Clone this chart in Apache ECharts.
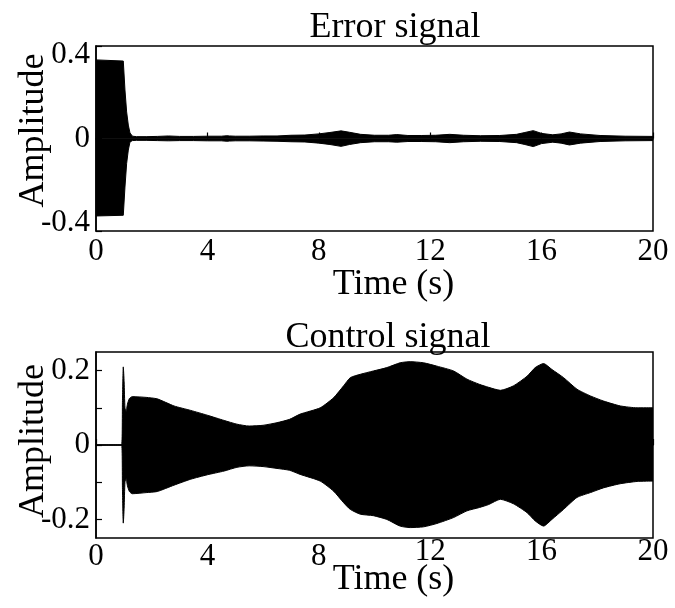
<!DOCTYPE html>
<html>
<head>
<meta charset="utf-8">
<script src="https://cdn.jsdelivr.net/npm/echarts@6/dist/echarts.min.js"></script>
<style>html,body{margin:0;padding:0;background:#fff}#c{width:675px;height:608px}</style>
</head>
<body>
<div id="c"></div>
<script>
// ---- Error signal envelope (time in s, amplitude) ----
var errT = [0, 0.98, 1.04, 1.10, 1.16, 1.22, 1.31, 1.45, 1.8, 2.2,
  2.6, 3.0, 3.5, 4.0, 4.5, 4.7, 4.75, 4.8, 5.0, 5.5,
  6.0, 6.5, 7.0, 7.5, 8.0, 8.4, 8.8, 9.1, 9.5, 10.0,
  10.5, 10.8, 11.2, 11.7, 12.2, 12.7, 13.2, 13.8, 14.5, 15.1,
  15.4, 15.7, 16.0, 16.4, 16.7, 17.0, 17.4, 18.1, 19.0, 20.0];
var errUpper = [0.34, 0.335, 0.21, 0.115, 0.058, 0.024, 0.01, 0.008, 0.008, 0.009,
  0.011, 0.009, 0.009, 0.01, 0.01, 0.012, 0.018, 0.011, 0.01, 0.01,
  0.011, 0.011, 0.014, 0.015, 0.02, 0.026, 0.033, 0.027, 0.018, 0.014,
  0.014, 0.017, 0.013, 0.013, 0.014, 0.018, 0.014, 0.012, 0.013, 0.018,
  0.026, 0.034, 0.022, 0.016, 0.02, 0.028, 0.02, 0.013, 0.01, 0.009];
var errLower = [-0.335, -0.332, -0.21, -0.108, -0.05, -0.015, -0.009, -0.008, -0.008, -0.009,
  -0.01, -0.009, -0.009, -0.01, -0.01, -0.012, -0.017, -0.011, -0.01, -0.01,
  -0.011, -0.012, -0.014, -0.015, -0.02, -0.026, -0.034, -0.026, -0.018, -0.014,
  -0.014, -0.016, -0.013, -0.013, -0.014, -0.018, -0.014, -0.012, -0.013, -0.018,
  -0.026, -0.035, -0.022, -0.016, -0.02, -0.028, -0.02, -0.013, -0.01, -0.009];

// ---- Control signal envelope ----
var ctrlT = [0, 0.92, 0.95, 0.98, 1.01, 1.04, 1.08, 1.13, 1.2, 1.3,
  1.8, 2.2, 2.8, 3.4, 4.0, 4.6, 5.06, 5.5, 6.0, 6.5,
  6.95, 7.33, 8.05, 8.53, 8.89, 9.13, 9.49, 9.96, 10.44, 10.92,
  11.28, 11.76, 12.24, 12.84, 13.32, 13.77, 14.1, 14.52, 14.99, 15.48,
  15.77, 16.07, 16.37, 16.79, 17.27, 17.75, 18.23, 18.83, 19.43, 20];
var ctrlUpper = [0, 0, 0.12, 0.21, 0.17, 0.1, 0.09, 0.11, 0.125, 0.13,
  0.128, 0.124, 0.105, 0.093, 0.08, 0.066, 0.056, 0.051, 0.053, 0.06,
  0.069, 0.083, 0.1, 0.127, 0.159, 0.181, 0.19, 0.199, 0.208, 0.221,
  0.224, 0.221, 0.212, 0.199, 0.177, 0.163, 0.155, 0.147, 0.159, 0.185,
  0.208, 0.219, 0.203, 0.181, 0.15, 0.132, 0.118, 0.105, 0.1, 0.1];
var ctrlLower = [0, 0, -0.12, -0.21, -0.17, -0.1, -0.09, -0.11, -0.125, -0.131,
  -0.128, -0.125, -0.108, -0.092, -0.08, -0.07, -0.06, -0.056, -0.058, -0.063,
  -0.068, -0.079, -0.097, -0.124, -0.155, -0.173, -0.186, -0.19, -0.2, -0.218,
  -0.222, -0.22, -0.211, -0.195, -0.177, -0.168, -0.16, -0.146, -0.158, -0.182,
  -0.204, -0.218, -0.2, -0.173, -0.141, -0.128, -0.115, -0.104, -0.098, -0.097];

// ---- Axis ticks / labels ----
var xTickLabels = [0, 4, 8, 12, 16, 20];
var errYLabels = [-0.4, 0, 0.4];
var ctrlYLabels = [-0.2, 0, 0.2];
var ctrlYTicks = [-0.2, -0.1, 0, 0.1, 0.2];
var titles = ['Error signal', 'Control signal'];
var xName = 'Time (s)';
var yName = 'Amplitude';

function zip(t, v) { return t.map(function (x, i) { return [x, v[i]]; }); }

var FONT = '"Liberation Serif", "Times New Roman", serif';
var black = '#000';
var LBL = 31;

function xAxisCfg(gi) {
  return {
    type: 'value', gridIndex: gi, min: 0, max: 20, interval: 4,
    name: xName, nameLocation: 'middle', nameGap: gi === 0 ? 36 : 24, nameMoveOverlap: false,
    nameTextStyle: { fontFamily: FONT, fontSize: 36, color: black, padding: [0, 0, 0, 38] },
    axisLine: { show: true, lineStyle: { color: black, width: 1.5 } },
    axisTick: { show: true, inside: true, length: 6, lineStyle: { color: black, width: 1.2 }, customValues: xTickLabels },
    axisLabel: {
      fontFamily: FONT, fontSize: LBL, color: black, margin: gi === 0 ? 5 : -2, customValues: xTickLabels,
      formatter: function (v) {
        if (gi === 1 && v < 12) return '{lo|' + v + '}';
        return String(v);
      },
      rich: { lo: { fontFamily: FONT, fontSize: LBL, color: black, padding: [5, 0, 0, 0] } }
    },
    splitLine: { show: false }
  };
}
function yAxisCfg(gi, min, max, labels, ticks) {
  return {
    type: 'value', gridIndex: gi, min: min, max: max,
    name: yName, nameLocation: 'middle', nameGap: 44, nameMoveOverlap: false,
    nameTextStyle: { fontFamily: FONT, fontSize: 36, color: black, padding: [0, 0, 0, gi === 0 ? 16 : 8] },
    axisLine: { show: true, lineStyle: { color: black, width: 1.5 } },
    axisTick: { show: true, inside: true, length: 6, lineStyle: { color: black, width: 1.2 }, customValues: ticks },
    axisLabel: {
      fontFamily: FONT, fontSize: LBL, color: black, margin: 6, customValues: labels,
      formatter: function (v) {
        var s = String(Math.round(v * 100) / 100);
        if (gi === 0 && v > 0.3) return '{dn|' + s + '}';
        if (gi === 0 && v < -0.3) return '{up|' + s + '}';
        return s;
      },
      rich: {
        dn: { fontFamily: FONT, fontSize: LBL, color: black, padding: [18, 0, 0, 0] },
        up: { fontFamily: FONT, fontSize: LBL, color: black, padding: [0, 0, 16, 0] }
      }
    },
    splitLine: { show: false }
  };
}
function band(gi, t, v) {
  return {
    type: 'line', xAxisIndex: gi, yAxisIndex: gi, data: zip(t, v),
    showSymbol: false, symbol: 'none', silent: true, smooth: gi === 1 ? 0.2 : false,
    lineStyle: { color: black, width: 1 },
    areaStyle: { color: black, opacity: 1, origin: 0 }
  };
}

var chart = echarts.init(document.getElementById('c'), null, { renderer: 'canvas' });
chart.setOption({
  animation: false,
  backgroundColor: '#fff',
  title: [
    { text: titles[0], left: 395, top: 10, textAlign: 'center', padding: 0,
      textStyle: { fontFamily: FONT, fontSize: 36, fontWeight: 'normal', color: black } },
    { text: titles[1], left: 388, top: 320, textAlign: 'center', padding: 0,
      textStyle: { fontFamily: FONT, fontSize: 36, fontWeight: 'normal', color: black } }
  ],
  grid: [
    { left: 96, right: 22, top: 46, height: 185, show: true, borderColor: black, borderWidth: 1.5, backgroundColor: 'transparent', outerBoundsMode: 'none', containLabel: false },
    { left: 96, right: 22, top: 352, height: 186, show: true, borderColor: black, borderWidth: 1.5, backgroundColor: 'transparent', outerBoundsMode: 'none', containLabel: false }
  ],
  xAxis: [xAxisCfg(0), xAxisCfg(1)],
  yAxis: [
    yAxisCfg(0, -0.4, 0.4, errYLabels, errYLabels),
    yAxisCfg(1, -0.25, 0.25, ctrlYLabels, ctrlYTicks)
  ],
  series: [
    band(0, errT, errUpper), band(0, errT, errLower),
    band(1, ctrlT, ctrlUpper), band(1, ctrlT, ctrlLower)
  ]
});
</script>
</body>
</html>
